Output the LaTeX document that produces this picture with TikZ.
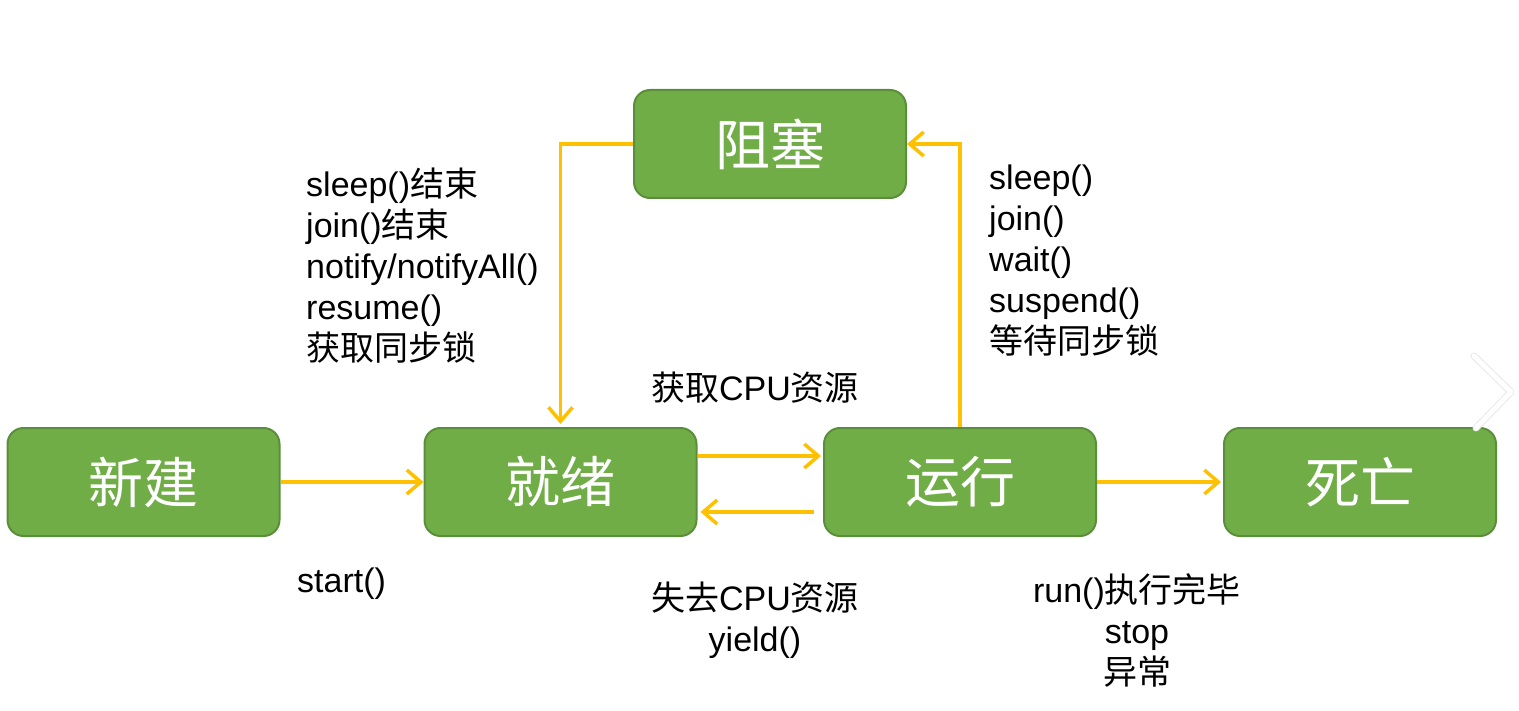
\documentclass[tikz,border=0pt]{standalone}
\usepackage{fontspec}
\setmainfont{Liberation Sans}
\newfontfamily\cjk{Noto Sans CJK SC}
\usetikzlibrary{arrows.meta}
\definecolor{boxgreen}{HTML}{70AD47}
\definecolor{boxedge}{HTML}{5B8E3A}
\definecolor{flowline}{HTML}{FFC000}
\newcommand{\zh}[1]{{\cjk #1}}

\begin{document}
\begin{tikzpicture}[x=1pt, y=-1pt,
    statebox/.style={draw=boxedge, line width=2pt, fill=boxgreen, rounded corners=16pt,
      minimum width=272pt, minimum height=108pt, inner sep=0pt, text=white,
      font=\cjk\fontsize{55}{60}\selectfont},
    flow/.style={draw=flowline, line width=3.5pt,
      -{Straight Barb[length=14pt,width=24pt,line width=3.5pt]}},
    notetext/.style={font=\fontsize{34}{41}\selectfont, inner sep=0pt}]
  \useasboundingbox (0,0) rectangle (1519,711);
  % states
  \node [statebox] (new) at (143.5, 482) {新建};
  \node [statebox] (ready) at (560.5, 482) {就绪};
  \node [statebox] (run) at (960, 482) {运行};
  \node [statebox] (dead) at (1360, 482) {死亡};
  \node [statebox] (block) at (770, 144) {阻塞};
  % transitions
  \draw [flow] (new.east) -- (ready.west);
  \draw [flow] ([yshift=26pt]ready.east) -- ([xshift=-2pt,yshift=26pt]run.west);
  \draw [flow] ([xshift=-9pt,yshift=-30pt]run.west) -- ([xshift=3pt,yshift=-30pt]ready.east);
  \draw [flow] (run.east) -- ([xshift=-2pt]dead.west);
  \draw [flow] (block.west) -| ([yshift=3pt]ready.north);
  \draw [flow] (run.north) |- (block.east);
  % labels
  \node [notetext, anchor=west] (startlbl) at (297, 584) {start()};
  \node [notetext, anchor=west, align=left] (wakelbl) at (306, 266)
    {sleep()\zh{结束}\\join()\zh{结束}\\notify/notifyAll()\\resume()\\\zh{获取同步锁}};
  \node [notetext, anchor=west, align=left] (waitlbl) at (989, 261)
    {sleep()\\join()\\wait()\\suspend()\\\zh{等待同步锁}};
  \node [notetext] (getcpu) at (755, 388) {\zh{获取}CPU\zh{资源}};
  \node [notetext, align=center] (losecpu) at (755, 620) {\zh{失去}CPU\zh{资源}\\yield()};
  \node [notetext, align=center] (endlbl) at (1137, 630) {run()\zh{执行完毕}\\stop\\\zh{异常}};
  % page chevron
  \draw [gray!18, line width=7pt, line cap=round, line join=round] (1474,356) -- (1511,392) -- (1476,428);
  \draw [white, line width=5pt, line cap=round, line join=round] (1474,356) -- (1511,392) -- (1476,428);
\end{tikzpicture}
\end{document}
